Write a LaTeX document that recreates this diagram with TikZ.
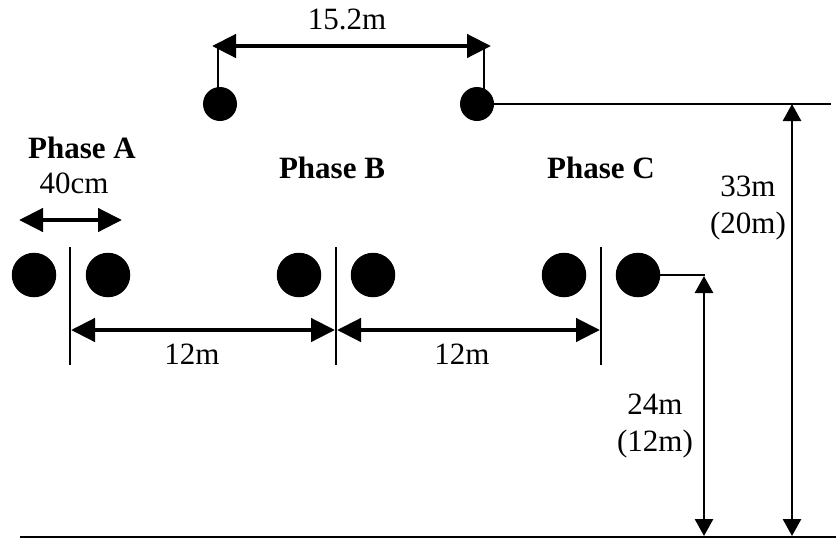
\documentclass[tikz,border=0pt]{standalone}
\usepackage{fontspec}
\setmainfont{Liberation Serif}
\usetikzlibrary{arrows.meta}
\tikzset{
  cond/.style={circle,fill=black,inner sep=0pt,minimum size=#1},
  cond/.default=44.5pt,
  ln/.style={line width=2pt},
  dim/.style={line width=4.5pt,{Triangle[length=24pt,width=23pt]}-{Triangle[length=24pt,width=23pt]}},
  dimthin/.style={line width=2.8pt,{Triangle[length=17pt,width=18pt]}-{Triangle[length=17pt,width=18pt]}},
  lab/.style={font=\fontsize{31}{37}\selectfont,inner sep=0pt,align=center},
  bold/.style={font=\fontsize{31}{37}\selectfont\bfseries,inner sep=0pt}
}
\begin{document}
\begin{tikzpicture}[x=1pt,y=-1pt]
\useasboundingbox (0,0) rectangle (836,539);
\coordinate (g0) at (20,537); \coordinate (g1) at (836,537);
\draw[ln] (g0) -- (g1);
\node[cond=34pt] (s1) at (220,104) {};
\node[cond=34pt] (s2) at (477,104) {};
\node[cond] (a1) at (34,275) {};
\node[cond] (a2) at (108,275) {};
\node[cond] (b1) at (299,275) {};
\node[cond] (b2) at (373,275) {};
\node[cond] (c1) at (564,275) {};
\node[cond] (c2) at (638,275) {};
\coordinate (s1t) at (218,47); \coordinate (s2t) at (484,47);
\draw[ln] (s1t) -- (218,90);
\draw[ln] (s2t) -- (484,90);
\coordinate (sr) at (831,104);
\draw[ln] (s2) -- (sr);
\coordinate (c2r) at (705,275);
\draw[ln] (c2) -- (c2r);
\coordinate (va0) at (70,247); \coordinate (va1) at (70,365);
\coordinate (vb0) at (336,247); \coordinate (vb1) at (336,365);
\coordinate (vc0) at (601,247); \coordinate (vc1) at (601,365);
\draw[ln] (va0) -- (va1);
\draw[ln] (vb0) -- (vb1);
\draw[ln] (vc0) -- (vc1);
\coordinate (d1l) at (212,46); \coordinate (d1r) at (491,46);
\draw[dim] (d1l) -- (d1r);
\coordinate (d2l) at (19,220); \coordinate (d2r) at (122,220);
\draw[dim] (d2l) -- (d2r);
\coordinate (d3l) at (71,330); \coordinate (d3r) at (335,330);
\draw[dim] (d3l) -- (d3r);
\coordinate (d4l) at (337,330); \coordinate (d4r) at (600,330);
\draw[dim] (d4l) -- (d4r);
\coordinate (v1t) at (792,104); \coordinate (v1b) at (792,536);
\draw[dimthin] (v1t) -- (v1b);
\coordinate (v2t) at (704,276); \coordinate (v2b) at (704,536);
\draw[dimthin] (v2t) -- (v2b);
\node[lab] (t1) at (347,19) {15.2m};
\node[bold] (pa) at (82,148) {Phase A};
\node[lab] (t2) at (74,183) {40cm};
\node[bold] (pb) at (332,168) {Phase B};
\node[bold] (pc) at (601,168) {Phase C};
\node[lab] (t3) at (192,354) {12m};
\node[lab] (t4) at (462,354) {12m};
\node[lab] (t5) at (748,208) {33m\\(20m)};
\node[lab] (t6) at (655,426) {24m\\(12m)};
\end{tikzpicture}
\end{document}
